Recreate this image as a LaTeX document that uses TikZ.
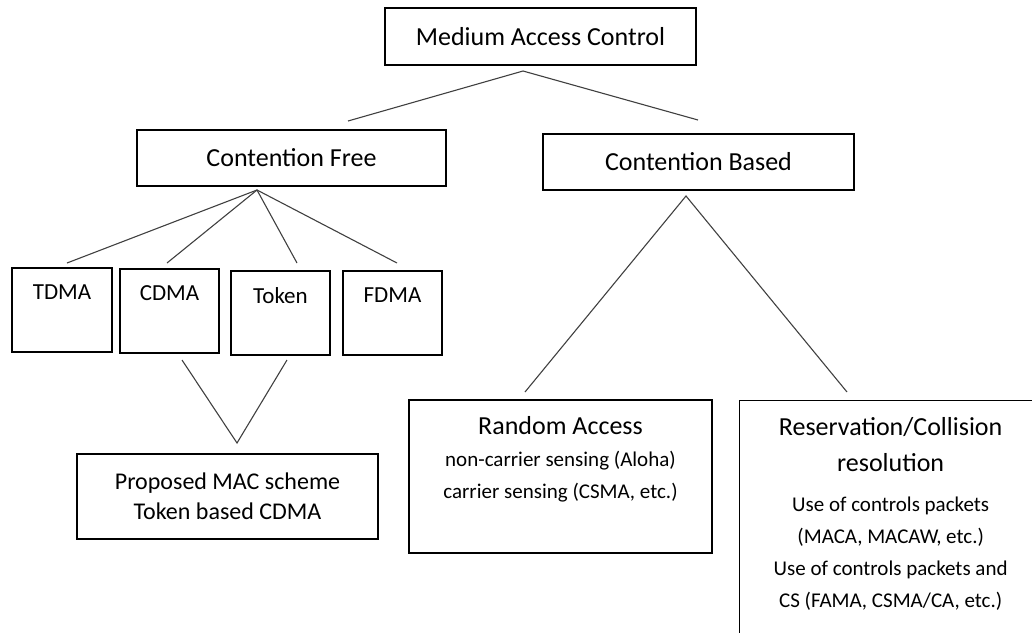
\documentclass[tikz,border=0pt]{standalone}
\usepackage{fontspec}
\setmainfont{Carlito}
\begin{document}
\begin{tikzpicture}[x=1pt, y=-1pt,
  box/.style={draw=black, line width=1.3pt, inner sep=0pt, font=\fontsize{26}{31}\selectfont},
  toplbl/.style={anchor=center, inner sep=0pt, font=\fontsize{23}{28}\selectfont},
  textlbl/.style={anchor=north, inner sep=0pt, align=center, font=\fontsize{21}{32}\selectfont},
  link/.style={draw=black!75, line width=1.1pt}]

\clip (0,0) rectangle (1032,632);

\node[box, minimum width=311pt, minimum height=57pt] (mac) at (540.5,36.5) {Medium Access Control};
\node[box, minimum width=309pt, minimum height=56pt] (cfree) at (291.5,158) {Contention Free};
\node[box, minimum width=311pt, minimum height=56pt] (cbased) at (698.5,162) {Contention Based};

\node[box, minimum width=100pt, minimum height=84pt, label={[toplbl, yshift=-25pt]north:TDMA}] (tdma) at (62,310) {};
\node[box, minimum width=99pt, minimum height=84pt, label={[toplbl, yshift=-25pt]north:CDMA}] (cdma) at (169.5,311) {};
\node[box, minimum width=99pt, minimum height=84pt, label={[toplbl, yshift=-25pt]north:Token}] (token) at (280.5,313) {};
\node[box, minimum width=99pt, minimum height=84pt, label={[toplbl, yshift=-25pt]north:FDMA}] (fdma) at (392.5,313) {};

\node[box, minimum width=301pt, minimum height=85pt, align=center, font=\fontsize{24}{30}\selectfont] (prop) at (227.5,496.5) {Proposed MAC scheme\\Token based CDMA};

\node[box, minimum width=303pt, minimum height=153pt, label={[textlbl, yshift=-17pt]north:{{\fontsize{26}{31}\selectfont Random Access}\\non-carrier sensing (Aloha)\\carrier sensing (CSMA, etc.)}}] (rand) at (560.5,476.5) {};
\node[box, minimum width=302pt, minimum height=260pt, anchor=north west, label={[textlbl, yshift=-17pt]north:{{\fontsize{26}{31}\selectfont Reservation/Collision}\\[4pt]{\fontsize{26}{31}\selectfont resolution}\\[8pt]Use of controls packets\\(MACA, MACAW, etc.)\\Use of controls packets and\\CS (FAMA, CSMA/CA, etc.)}}] (resv) at (739,400) {};

\coordinate (macJ) at (523,71);
\coordinate (cfreeT) at (348,121);
\coordinate (cbasedT) at (698,120);
\coordinate (cfreeJ) at (257,190);
\coordinate (tdmaT) at (67,263);
\coordinate (cdmaT) at (167,263);
\coordinate (tokenT) at (297,263);
\coordinate (fdmaT) at (397,263);
\coordinate (cdmaB) at (182,360);
\coordinate (tokenB) at (287,360);
\coordinate (propT) at (237,443);
\coordinate (cbasedJ) at (686,196);
\coordinate (randT) at (525,392);
\coordinate (resvT) at (847,392);

\draw[link] (cfreeT) -- (macJ) -- (cbasedT);
\draw[link] (tdmaT) -- (cfreeJ) -- (fdmaT);
\draw[link] (cdmaT) -- (cfreeJ) -- (tokenT);
\draw[link] (cdmaB) -- (propT) -- (tokenB);
\draw[link] (randT) -- (cbasedJ) -- (resvT);

\end{tikzpicture}
\end{document}
